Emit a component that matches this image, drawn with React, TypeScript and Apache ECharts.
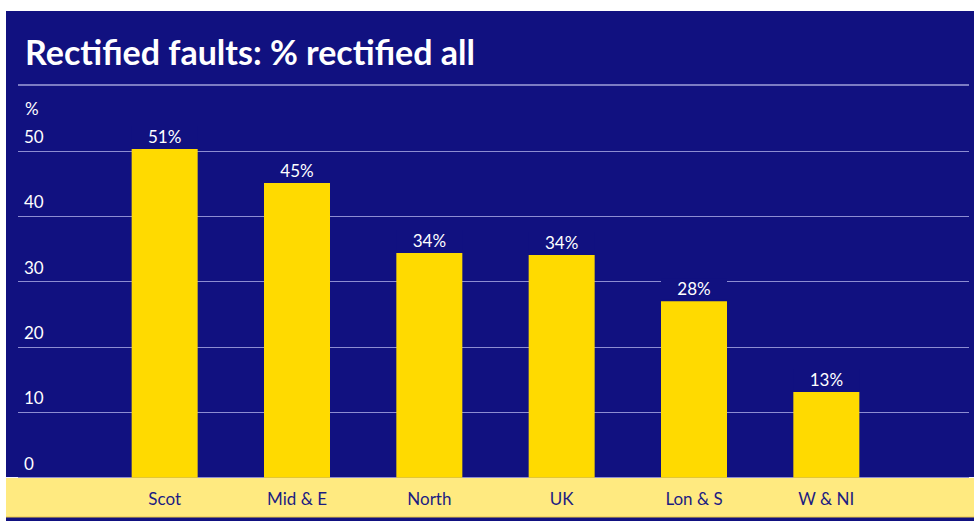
import React, { useEffect, useRef } from "react";
import * as echarts from "echarts";

const categories = ["Scot", "Mid & E", "North", "UK", "Lon & S", "W & NI"];
const values = [50.3, 45.1, 34.4, 34.1, 27.0, 13.1];
const valueLabels = ["51%", "45%", "34%", "34%", "28%", "13%"];
const yMin = 0;
const yMax = 50;
const yInterval = 10;
const title = "Rectified faults: % rectified all";
const unitLabel = "%";

const BG = "#111180";
const BAR = "#FFDA00";
const BAND = "#FFEA80";
const GRID = "#8d8dd2";
const FONT = "Lato";

export default function App() {
  const ref = useRef<HTMLDivElement>(null);
  useEffect(() => {
    if (!ref.current) return;
    const chart = echarts.init(ref.current, undefined, { renderer: "svg" });
    chart.setOption({
      animation: false,
      backgroundColor: "#ffffff",
      textStyle: { fontFamily: FONT },
      grid: [
        { left: 98.5, right: 81.5, top: 151, bottom: 43.3 },
        { left: 18, right: 5, top: 151, bottom: 43.3 },
      ],
      xAxis: [
        {
          type: "category",
          gridIndex: 0,
          data: categories,
          axisLine: { show: false },
          axisTick: { show: false },
          splitLine: { show: false },
          axisLabel: { color: "#1c1c82", fontSize: 17, margin: 12, fontFamily: FONT },
        },
        { type: "value", gridIndex: 1, min: 0, max: 1, show: false },
      ],
      yAxis: [
        { type: "value", gridIndex: 0, min: yMin, max: yMax, interval: yInterval, show: false },
        {
          type: "value",
          gridIndex: 1,
          min: yMin,
          max: yMax,
          interval: yInterval,
          axisLine: { show: false },
          axisTick: { show: false },
          splitLine: { lineStyle: { color: GRID, width: 1 } },
          axisLabel: {
            color: "#ffffff",
            fontSize: 17,
            fontFamily: FONT,
            align: "left",
            verticalAlign: "bottom",
            margin: -6,
            padding: [0, 0, 6, 0],
          },
        },
      ],
      series: [
        {
          type: "bar",
          xAxisIndex: 0,
          yAxisIndex: 0,
          data: values,
          barWidth: 66,
          clip: false,
          itemStyle: { color: BAR },
          z: 5,
          label: {
            show: true,
            position: "top",
            distance: 2,
            color: "#ffffff",
            fontSize: 17,
            fontFamily: FONT,
            backgroundColor: BG,
            width: 66,
            align: "center",
            padding: [2, 0, 2, 0],
            formatter: (p: any) => valueLabels[p.dataIndex],
          },
        },
      ],
      graphic: [
        { type: "rect", z: -100, shape: { x: 6, y: 11, width: 968, height: 510 }, style: { fill: BG } },
        { type: "rect", z: -50, shape: { x: 6, y: 478, width: 968, height: 39 }, style: { fill: BAND } },
        { type: "line", z: -40, shape: { x1: 6, y1: 477.5, x2: 974, y2: 477.5 }, style: { stroke: "#f4f4ff", lineWidth: 1 } },
        { type: "line", z: -40, shape: { x1: 6, y1: 517, x2: 974, y2: 517 }, style: { stroke: "#EBC84A", lineWidth: 1 } },
        { type: "line", z: -40, shape: { x1: 18, y1: 85, x2: 969, y2: 85 }, style: { stroke: "#a0a0da", lineWidth: 1.5 } },
        {
          type: "text",
          z: 10,
          x: 25,
          y: 51,
          style: {
            text: title,
            fill: "#ffffff",
            font: `bold 34px ${FONT}`,
            verticalAlign: "middle",
          },
        },
        {
          type: "text",
          z: 10,
          x: 25,
          y: 108,
          style: {
            text: unitLabel,
            fill: "#ffffff",
            font: `17px ${FONT}`,
            verticalAlign: "middle",
          },
        },
      ],
    });
    return () => chart.dispose();
  }, []);
  return (
    <div
      ref={ref}
      style={{ position: "fixed", left: 0, top: 0, width: 974, height: 521 }}
    />
  );
}
